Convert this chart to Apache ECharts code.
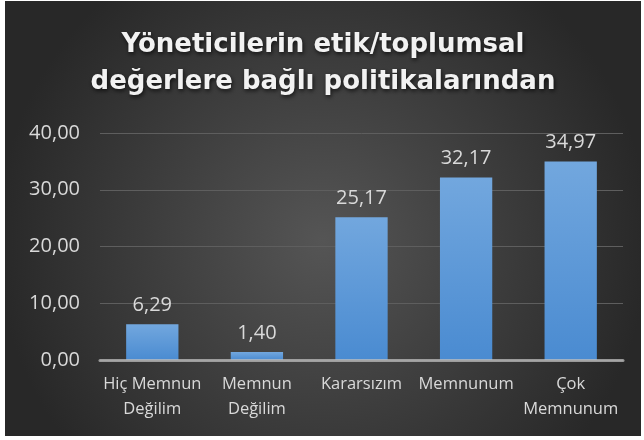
<!DOCTYPE html>
<html>
<head>
<meta charset="utf-8">
<script src="https://cdn.jsdelivr.net/npm/echarts@6/dist/echarts.min.js"></script>
<style>
  html, body { margin: 0; padding: 0; background: #ffffff; }
  #main { position: absolute; left: 5px; top: 1px; width: 636px; height: 435px; }
</style>
</head>
<body>
<div id="main"></div>
<script>
const categories = ['Hiç Memnun\nDeğilim', 'Memnun\nDeğilim', 'Kararsızım', 'Memnunum', 'Çok\nMemnunum']
const values = [6.29, 1.40, 25.17, 32.17, 34.97]
const yTicks = [0, 10, 20, 30, 40]

const fmt = v => v.toFixed(2).replace('.', ',')

const chart = echarts.init(document.getElementById('main'))
chart.setOption({
  backgroundColor: {
    type: 'radial', x: 0.5, y: 0.55, r: 0.75,
    colorStops: [
      { offset: 0, color: '#555555' },
      { offset: 1, color: '#282828' }
    ]
  },
  title: {
    text: 'Yöneticilerin etik/toplumsal\ndeğerlere bağlı politikalarından',
    left: 'center',
    top: 21,
    textStyle: {
      color: '#f2f2f2',
      fontFamily: 'DejaVu Sans',
      fontWeight: 'bold',
      fontSize: 26,
      lineHeight: 37,
      textShadowColor: 'rgba(0,0,0,0.7)',
      textShadowBlur: 4,
      textShadowOffsetX: 1,
      textShadowOffsetY: 2
    }
  },
  grid: { left: 95, right: 18, top: 132, bottom: 76 },
  xAxis: {
    type: 'category',
    data: categories,
    z: 5,
    axisLine: { lineStyle: { color: 'rgba(190,190,190,0.75)', width: 3 } },
    axisTick: { show: false },
    axisLabel: {
      color: '#d9d9d9',
      fontFamily: 'Open Sans',
      fontSize: 16.5,
      lineHeight: 25,
      margin: 12,
      interval: 0
    }
  },
  yAxis: {
    type: 'value',
    min: yTicks[0],
    max: yTicks[yTicks.length - 1],
    interval: 10,
    axisLine: { show: false },
    axisTick: { show: false },
    splitLine: { lineStyle: { color: '#5e5e5e', width: 1 } },
    axisLabel: {
      color: '#d9d9d9',
      fontFamily: 'Open Sans',
      fontSize: 20,
      margin: 20,
      formatter: fmt
    }
  },
  series: [{
    type: 'bar',
    data: values,
    barWidth: '50%',
    itemStyle: {
      color: {
        type: 'linear', x: 0, y: 0, x2: 0, y2: 1,
        colorStops: [
          { offset: 0, color: '#72a7de' },
          { offset: 1, color: '#4a8bd1' }
        ]
      }
    },
    label: {
      show: true,
      position: 'top',
      distance: 9,
      color: '#d9d9d9',
      fontFamily: 'Open Sans',
      fontSize: 20,
      formatter: p => fmt(p.value)
    }
  }]
})
window.onresize = () => chart.resize()
</script>
</body>
</html>
